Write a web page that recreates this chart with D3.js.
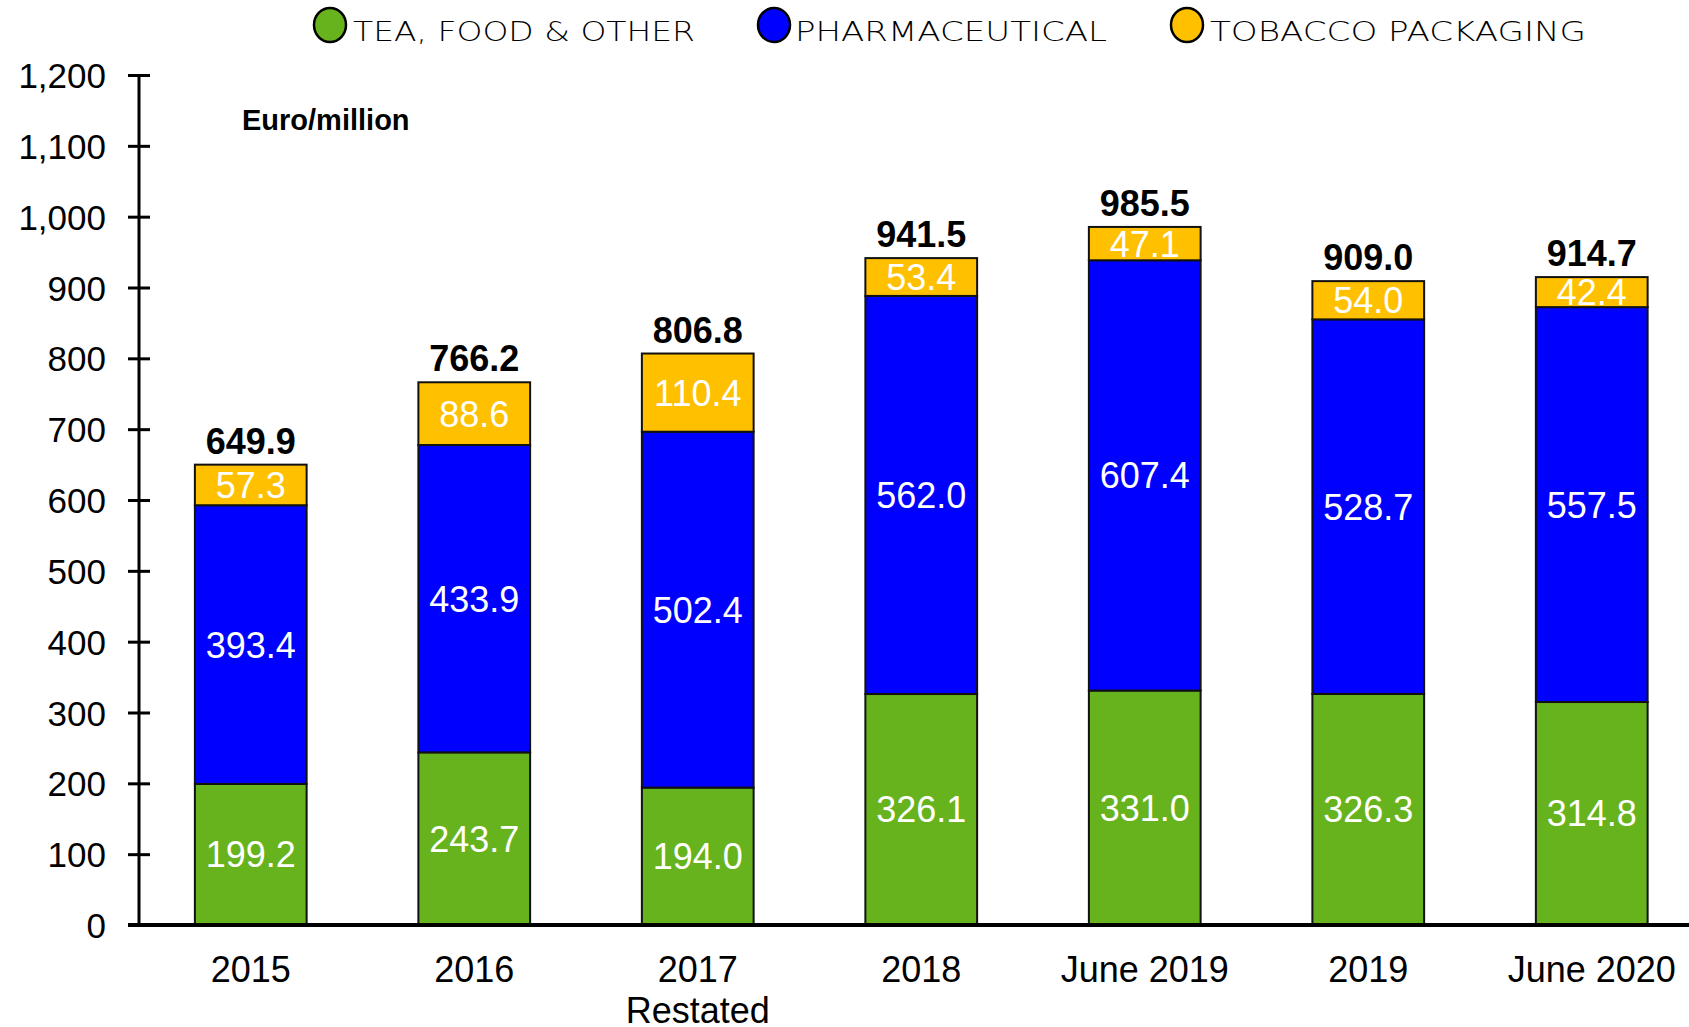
<!DOCTYPE html>
<html><head><meta charset="utf-8">
<script src="https://cdn.jsdelivr.net/npm/d3@7"></script>
<style>body{margin:0;background:#fff}svg{display:block}</style>
</head><body>
<svg id="c" width="1689" height="1027"></svg>
<script>
const categories = ["2015","2016","2017\nRestated","2018","June 2019","2019","June 2020"];
const teaFood = [199.2,243.7,194.0,326.1,331.0,326.3,314.8];
const pharma = [393.4,433.9,502.4,562.0,607.4,528.7,557.5];
const tobacco = [57.3,88.6,110.4,53.4,47.1,54.0,42.4];
const totals = [649.9,766.2,806.8,941.5,985.5,909.0,914.7];
const yTicks = [0,100,200,300,400,500,600,700,800,900,1000,1100,1200];
const seriesNames = ["TEA, FOOD & OTHER","PHARMACEUTICAL","TOBACCO PACKAGING"];
const colors = ["#67B31D","#0000FF","#FFC000"];

const svg = d3.select("#c");
const axisX = 139;
const y = d3.scaleLinear().domain([0,1200]).range([925,75]);
const x = d3.scaleBand().domain(categories).range([axisX, axisX + 7*223.5]).paddingInner(0.5).paddingOuter(0.25);

const rows = categories.map((c,i)=>({cat:c, tea:teaFood[i], pharma:pharma[i], tob:tobacco[i], total:totals[i]}));
const stack = d3.stack().keys(["tea","pharma","tob"])(rows);

const g = svg.append("g");
stack.forEach((layer, li) => {
  g.selectAll(null).data(layer).enter().append("rect")
    .attr("x", d => x(d.data.cat))
    .attr("y", d => y(d[1]))
    .attr("width", x.bandwidth())
    .attr("height", d => y(d[0]) - y(d[1]))
    .attr("fill", colors[li])
    .attr("stroke", "#111")
    .attr("stroke-width", 2);
});
stack.forEach((layer, li) => {
  g.selectAll(null).data(layer).enter().append("text")
    .attr("x", d => x(d.data.cat) + x.bandwidth()/2)
    .attr("y", d => y((d[0]+d[1])/2))
    .attr("dy", "0.36em")
    .attr("text-anchor","middle")
    .attr("fill","#fff")
    .style("font-family","'Liberation Sans', Arial, sans-serif")
    .style("font-size","36px")
    .text(d => (d[1]-d[0]).toFixed(1));
});
g.selectAll(null).data(rows).enter().append("text")
  .attr("x", d => x(d.cat) + x.bandwidth()/2)
  .attr("y", d => y(d.total) - 11)
  .attr("text-anchor","middle")
  .attr("fill","#000")
  .style("font-family","'Liberation Sans', Arial, sans-serif")
  .style("font-size","36px")
  .style("font-weight","bold")
  .text(d => d.total.toFixed(1));

// Y axis
const yAxis = d3.axisLeft(y).tickValues(yTicks).tickSize(0).tickPadding(0).tickFormat(d3.format(","));
const ya = svg.append("g").attr("transform",`translate(${axisX},0)`).call(yAxis);
ya.select(".domain").remove();
ya.selectAll(".tick text")
  .attr("x", -33).attr("dy","0.36em")
  .style("font-family","'Liberation Sans', Arial, sans-serif")
  .style("font-size","35px").attr("fill","#000");
ya.selectAll(".tick").append("line")
  .attr("x1",-11).attr("x2",11).attr("stroke","#000").attr("stroke-width",3);
svg.append("line").attr("x1",axisX).attr("x2",axisX).attr("y1",y(1200)).attr("y2",y(0))
  .attr("stroke","#000").attr("stroke-width",3);

// X axis
const xAxis = d3.axisBottom(x).tickSize(0).tickPadding(0);
const xa = svg.append("g").attr("transform",`translate(0,${y(0)})`).call(xAxis);
xa.select(".domain").remove();
xa.selectAll(".tick text").each(function(d){
  const t = d3.select(this).text("").attr("y",0).attr("dy",null)
    .style("font-family","'Liberation Sans', Arial, sans-serif")
    .style("font-size","36px").attr("fill","#000");
  d.split("\n").forEach((s,i)=>{
    t.append("tspan").attr("x",0).attr("y", 56.5 + i*41.5).text(s);
  });
});
svg.append("line").attr("x1",128).attr("x2",1689).attr("y1",y(0)).attr("y2",y(0))
  .attr("stroke","#000").attr("stroke-width",4);

// Unit label
svg.append("text").attr("x",242).attr("y",130)
  .style("font-family","'Liberation Sans', Arial, sans-serif")
  .style("font-size","29px").style("font-weight","bold").text("Euro/million");

// Legend
const legCx = [330, 774, 1187];
const legTx = [353, 795, 1210];
const legTw = [342, 312, 376];
seriesNames.forEach((n,i)=>{
  svg.append("ellipse").attr("cx",legCx[i]).attr("cy",25).attr("rx",16).attr("ry",17)
    .attr("fill",colors[i]).attr("stroke","#000").attr("stroke-width",2.5);
  svg.append("text").attr("x",legTx[i]).attr("y",40.5)
    .attr("textLength",legTw[i]).attr("lengthAdjust","spacingAndGlyphs")
    .style("font-family","'DejaVu Sans', Verdana, sans-serif")
    .style("font-size","26px").style("font-weight","300").attr("fill","#000").text(n);
});
</script>
</body></html>
